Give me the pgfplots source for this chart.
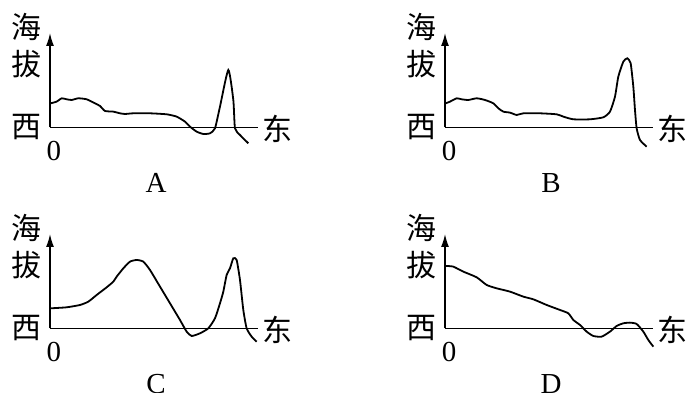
\documentclass[border=0pt]{standalone}
\usepackage{pgfplots}
\pgfplotsset{compat=1.18}
\usepackage{fontspec}
\setmainfont{Liberation Serif}
\newfontfamily\cjk{Noto Sans CJK SC}
\usetikzlibrary{arrows.meta}

\pgfplotsset{
  panel/.style={
    x=0.3333pt, y=0.3333pt,
    xmin=0, xmax=625, ymin=0, ymax=283,
    axis x line=bottom, axis y line=left,
    x axis line style={-, line width=1.5pt},
    y axis line style={-{Latex[length=13pt,width=8pt]}, line width=1.5pt},
    xtick=\empty, ytick=\empty,
    clip=false,
    anchor=south west,
  },
  profile/.style={black, line width=1.8pt, smooth, tension=0.35, mark=none},
}

% axis labels of one panel, set in axis units
\newcommand{\panellabels}[1]{%
  \node[font=\cjk\fontsize{30}{32}\selectfont] at (axis cs:-72,302) {海};
  \node[font=\cjk\fontsize{30}{32}\selectfont] at (axis cs:-72,190) {拔};
  \node[font=\cjk\fontsize{30}{32}\selectfont] at (axis cs:-72,0) {西};
  \node[font=\cjk\fontsize{30}{32}\selectfont] at (axis cs:684,-6) {东};
  \node[font=\fontsize{29}{31}\selectfont] at (axis cs:12,-70) {0};
  \node[font=\fontsize{29}{31}\selectfont] at (axis cs:318,-166) {#1};
}

\begin{document}
\begin{tikzpicture}
\useasboundingbox (0,0) rectangle (687pt,392pt);

% A
\begin{axis}[panel, at={(50pt,264.7pt)}]
\addplot[profile] coordinates {
  (2,72) (20,77) (35,87) (50,84) (65,82) (85,87) (110,84) (135,72)
  (150,64) (165,49) (190,47) (210,42) (225,40) (250,42) (300,42)
  (350,39) (380,32) (405,17) (420,2) (440,-13) (460,-20) (480,-18)
  (495,-3) (510,62) (535,172) (550,82) (555,-3) (570,-23) (595,-48)
};
\panellabels{A}
\end{axis}

% B
\begin{axis}[panel, at={(445pt,264.7pt)}]
\addplot[profile] coordinates {
  (2,72) (15,77) (35,87) (50,84) (70,82) (95,87) (120,82) (145,72)
  (160,57) (175,47) (195,44) (215,37) (235,42) (285,42) (335,39)
  (355,32) (385,24) (435,24) (475,30) (495,47) (510,92) (520,152)
  (535,197) (547,207) (557,192) (565,122) (570,52) (575,-3) (585,-38)
  (605,-58)
};
\panellabels{B}
\end{axis}

% C
\begin{axis}[panel, at={(50pt,63.7pt)}]
\addplot[profile] coordinates {
  (2,60) (50,63) (90,70) (115,80) (140,100) (170,123) (190,140)
  (200,155) (220,180) (240,200) (260,205) (280,200) (300,175)
  (330,125) (360,75) (390,25) (410,-10) (425,-23) (450,-15) (475,0)
  (495,30) (510,75) (520,110) (530,160) (540,180) (550,210) (560,205)
  (570,145) (580,55) (590,0) (605,-25) (620,-40)
};
\panellabels{C}
\end{axis}

% D
\begin{axis}[panel, at={(445pt,63.7pt)}]
\addplot[profile] coordinates {
  (3,187) (25,185) (55,170) (95,153) (125,130) (155,120) (195,110)
  (235,95) (265,87) (305,70) (345,55) (370,45) (385,25) (405,10)
  (425,-10) (445,-23) (470,-25) (495,-10) (515,7) (535,15) (555,17)
  (575,13) (595,-10) (610,-35) (625,-55)
};
\panellabels{D}
\end{axis}
\end{tikzpicture}
\end{document}
